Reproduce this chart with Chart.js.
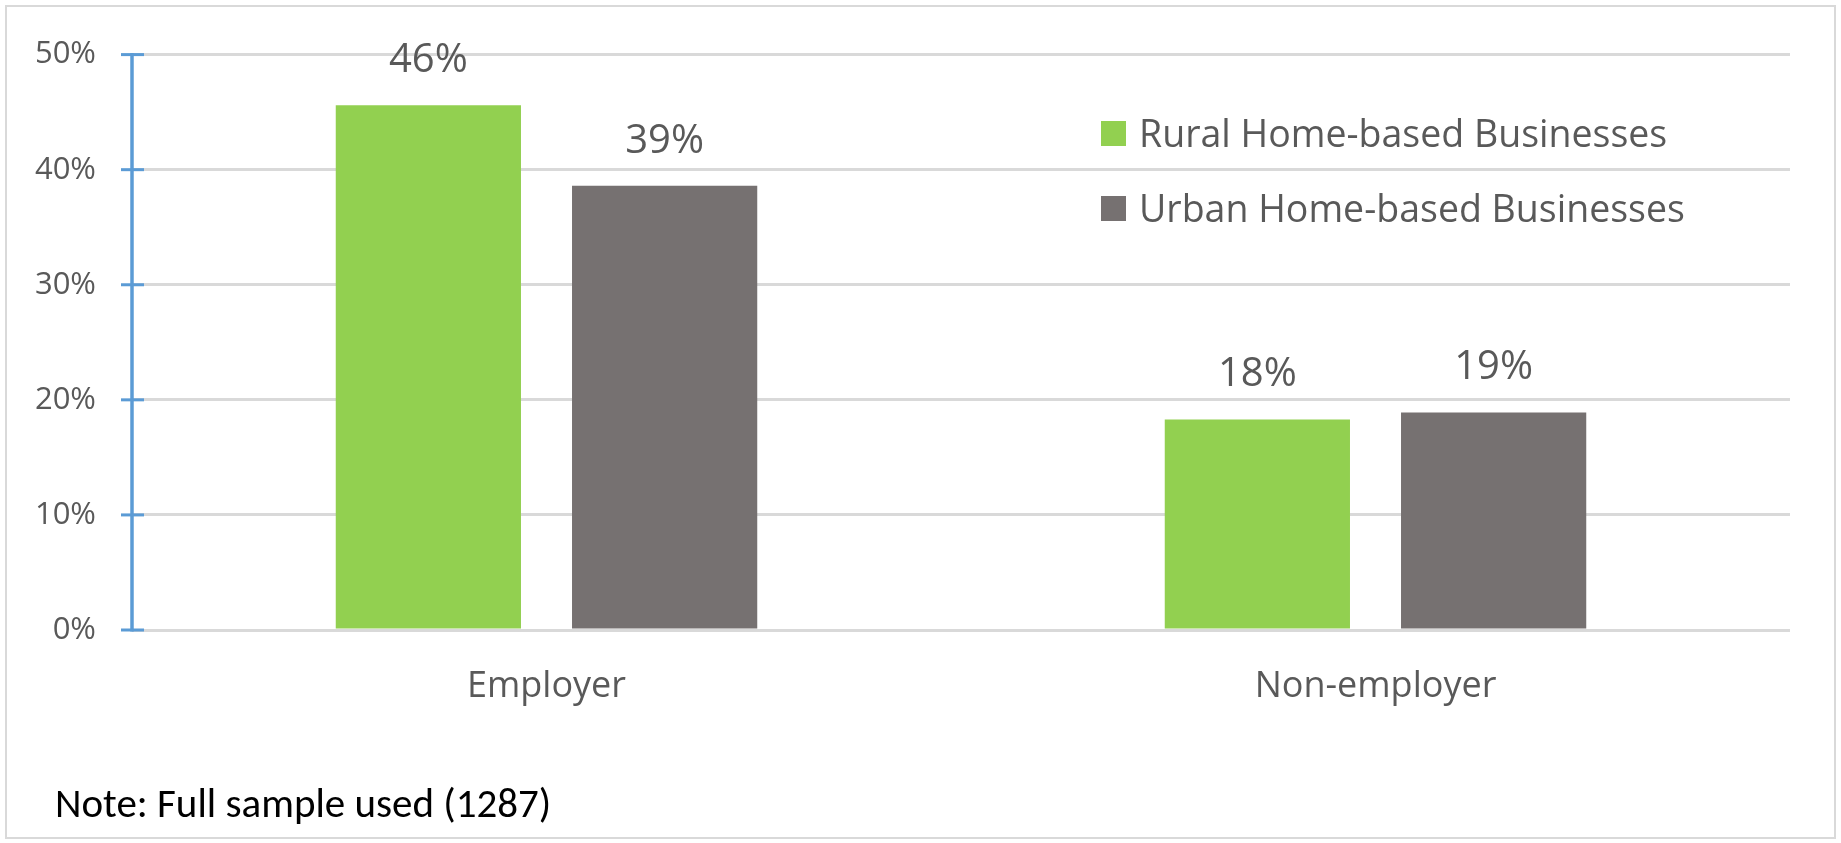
<!DOCTYPE html>
<html>
<head>
<meta charset="utf-8">
<title>Home-based businesses: employer vs non-employer</title>
<script src="https://cdn.jsdelivr.net/npm/chart.js"></script>
<style>
  html, body { margin: 0; padding: 0; background: #fff; overflow: hidden; }
  #wrap { position: relative; width: 1841px; height: 843px; }
</style>
</head>
<body>
<div id="wrap"><canvas id="chart" width="1841" height="843"></canvas></div>
<script>
// chart data
const categories = ['Employer', 'Non-employer'];
const seriesNames = ['Rural Home-based Businesses', 'Urban Home-based Businesses'];
const ruralValues = [45.6, 18.3];
const urbanValues = [38.6, 18.9];
const yTickValues = [0, 10, 20, 30, 40, 50];
const noteText = 'Note: Full sample used (1287)';

const FONT = '"Open Sans", "Noto Sans", sans-serif';
const NOTE_FONT = 'Carlito, Calibri, Lato, sans-serif';
const GREEN = '#92d050';
const GREY = '#767171';
const TEXT = '#595959';
const AXIS_BLUE = '#5b9bd5';

// frame round the whole picture, plus the note at the bottom
const framePlugin = {
  id: 'frame',
  beforeDraw(chart) {
    const ctx = chart.ctx;
    ctx.save();
    ctx.fillStyle = '#fff';
    ctx.fillRect(0, 0, chart.width, chart.height);
    ctx.strokeStyle = '#d9d9d9';
    ctx.lineWidth = 2;
    ctx.strokeRect(6, 6, chart.width - 12, chart.height - 11);
    ctx.restore();
  },
  afterDraw(chart) {
    const ctx = chart.ctx;
    ctx.save();
    ctx.fillStyle = '#000';
    ctx.font = '41px ' + NOTE_FONT;
    ctx.textAlign = 'left';
    ctx.textBaseline = 'alphabetic';
    ctx.fillText(noteText, 55, 817);
    ctx.restore();
  }
};

// blue vertical axis with crossing tick marks
const axisPlugin = {
  id: 'blueAxis',
  afterDatasetsDraw(chart) {
    const y = chart.scales.y;
    const area = chart.chartArea;
    const ctx = chart.ctx;
    ctx.save();
    ctx.strokeStyle = AXIS_BLUE;
    ctx.lineWidth = 3.5;
    ctx.beginPath();
    ctx.moveTo(area.left, y.getPixelForValue(y.max) - 1.5);
    ctx.lineTo(area.left, y.getPixelForValue(y.min) + 1.5);
    ctx.stroke();
    ctx.lineWidth = 3;
    y.ticks.forEach(t => {
      const py = y.getPixelForValue(t.value);
      ctx.beginPath();
      ctx.moveTo(area.left - 11, py);
      ctx.lineTo(area.left + 12, py);
      ctx.stroke();
    });
    ctx.restore();
  }
};

// value labels above each bar
const valueLabels = {
  id: 'valueLabels',
  afterDatasetsDraw(chart) {
    const ctx = chart.ctx;
    ctx.save();
    ctx.fillStyle = TEXT;
    ctx.font = '40px ' + FONT;
    ctx.textAlign = 'center';
    ctx.textBaseline = 'alphabetic';
    chart.data.datasets.forEach((ds, i) => {
      chart.getDatasetMeta(i).data.forEach((bar, j) => {
        ctx.fillText(Math.round(ds.data[j]) + '%', bar.x, bar.y - 33);
      });
    });
    ctx.restore();
  }
};

// legend drawn inside the plot, upper right
const legendPlugin = {
  id: 'insideLegend',
  afterDraw(chart) {
    const ctx = chart.ctx;
    ctx.save();
    ctx.font = '37.5px ' + FONT;
    ctx.textAlign = 'left';
    ctx.textBaseline = 'alphabetic';
    chart.data.datasets.forEach((ds, i) => {
      const top = 121 + i * 75;
      ctx.fillStyle = ds.backgroundColor;
      ctx.fillRect(1101, top, 25, 25);
      ctx.fillStyle = TEXT;
      ctx.fillText(ds.label, 1139, top + 26);
    });
    ctx.restore();
  }
};

new Chart(document.getElementById('chart'), {
  type: 'bar',
  data: {
    labels: categories,
    datasets: [
      { label: seriesNames[0], data: ruralValues, backgroundColor: GREEN },
      { label: seriesNames[1], data: urbanValues, backgroundColor: GREY }
    ]
  },
  options: {
    responsive: false,
    animation: false,
    devicePixelRatio: 1,
    categoryPercentage: 0.57,
    barPercentage: 0.784,
    layout: { padding: { top: 51, left: 0, right: 51, bottom: 93 } },
    plugins: {
      legend: { display: false },
      tooltip: { enabled: false }
    },
    scales: {
      x: {
        grid: { display: false },
        border: { display: false },
        ticks: { color: TEXT, font: { family: FONT, size: 36 }, padding: 27 },
        afterFit(scale) { scale.height = 120; }
      },
      y: {
        min: 0,
        max: 50,
        afterBuildTicks(scale) { scale.ticks = yTickValues.map(v => ({ value: v })); },
        ticks: {
          color: TEXT,
          font: { family: FONT, size: 31 },
          padding: 36,
          callback: v => v + '%'
        },
        grid: { color: '#d9d9d9', lineWidth: 3, drawTicks: false },
        border: { display: false },
        afterFit(scale) { scale.width = 132; }
      }
    }
  },
  plugins: [framePlugin, axisPlugin, valueLabels, legendPlugin]
});
</script>
</body>
</html>
